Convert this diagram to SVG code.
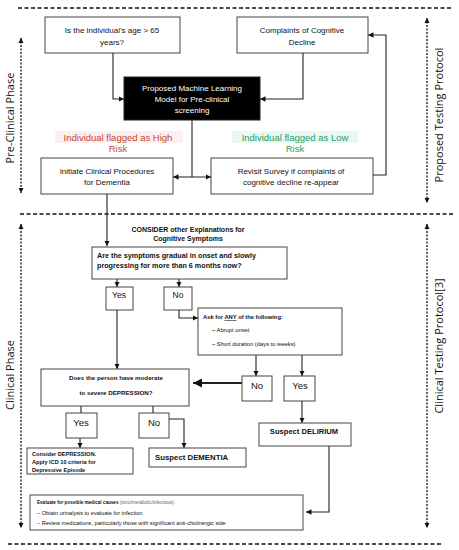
<svg xmlns="http://www.w3.org/2000/svg" width="459" height="550" viewBox="0 0 459 550">
<defs>
<marker id="ah" viewBox="0 0 6 6" refX="6" refY="3" markerWidth="5" markerHeight="5" orient="auto-start-reverse"><path d="M0,0 L6,3 L0,6 z" fill="#111"/></marker>
<marker id="dh" viewBox="0 0 6 6" refX="6" refY="3" markerWidth="4" markerHeight="4" orient="auto-start-reverse"><path d="M0,0 L6,3 L0,6 z" fill="#111"/></marker>
</defs>
<style>
.box{fill:#fff;stroke:#444;stroke-width:1}
.blk{fill:#000;stroke:#222;stroke-width:1}
.t{font-family:"Liberation Sans",Arial,sans-serif;fill:#111;text-anchor:middle}
.tl{font-family:"Liberation Sans",Arial,sans-serif;fill:#111}
.b{font-weight:bold}
.w{fill:#fff}
.side{font-family:"Open Sans","Liberation Sans",sans-serif;font-size:11px;fill:#111;text-anchor:middle}
.c{fill:none;stroke:#222;stroke-width:1.1}
.sep{fill:none;stroke:#111;stroke-width:1.5;stroke-dasharray:4,2.5}
.dv{fill:none;stroke:#111;stroke-width:1.3;stroke-dasharray:2,1.5}
</style>

<g id="separators">
<path class="sep" d="M18,8 H453"/>
<path class="sep" d="M20,214 H453"/>
<path class="sep" d="M8,544 H443"/>
</g>

<g id="phase-labels">
<path class="dv" d="M21,38 V193" marker-start="url(#dh)" marker-end="url(#dh)"/>
<path class="dv" d="M427,18 V203" marker-start="url(#dh)" marker-end="url(#dh)"/>
<path class="dv" d="M21,224 V528" marker-start="url(#dh)" marker-end="url(#dh)"/>
<path class="dv" d="M427,224 V528" marker-start="url(#dh)" marker-end="url(#dh)"/>
<text class="side" transform="translate(14,118) rotate(-90)">Pre-Clinical Phase</text>
<text class="side" transform="translate(443,115) rotate(-90)">Proposed Testing Protocol</text>
<text class="side" transform="translate(14,375) rotate(-90)">Clinical Phase</text>
<text class="side" transform="translate(443,346) rotate(-90)">Clinical Testing Protocol[3]</text>
</g>

<g id="connectors">
<path class="c" d="M113,53 V99 H124" marker-end="url(#ah)"/>
<path class="c" d="M303,53 V99 H260" marker-end="url(#ah)"/>
<path class="c" d="M192,120 V177"/>
<path class="c" d="M173,177 H211" marker-start="url(#ah)" marker-end="url(#ah)"/>
<path class="c" d="M373,175 H386 V35 H368" marker-end="url(#ah)"/>
<path class="c" d="M107,194 V246" marker-end="url(#ah)"/>
<path class="c" d="M117,279 V287" marker-end="url(#ah)"/>
<path class="c" d="M179,279 V287" marker-end="url(#ah)"/>
<path class="c" d="M179,310 V318 H198" marker-end="url(#ah)"/>
<path class="c" d="M256,355 V376" marker-end="url(#ah)"/>
<path class="c" d="M302,355 V376" marker-end="url(#ah)"/>
<path class="c" d="M242,383 H193" marker-end="url(#ah)" style="stroke-width:1.8"/>
<path class="c" d="M117,310 V369" marker-end="url(#ah)"/>
<path class="c" d="M81,406 V413"/>
<path class="c" d="M153,406 V413"/>
<path class="c" d="M80,438 V448" marker-end="url(#ah)"/>
<path class="c" d="M169,419 H184 V448" marker-end="url(#ah)"/>
<path class="c" d="M302,401 V423" marker-end="url(#ah)"/>
<path class="c" d="M329,446 V512 H306" marker-end="url(#ah)"/>
</g>

<g id="age">
<rect class="box" x="45" y="17" width="135" height="36"/>
<text class="t" x="112" y="33" font-size="8">Is the individual’s  age &gt; 65</text>
<text class="t" x="112" y="45" font-size="8">years?</text>
</g>

<g id="complaints">
<rect class="box" x="237" y="17" width="131" height="36"/>
<text class="t" x="302" y="33" font-size="8">Complaints  of Cognitive</text>
<text class="t" x="302" y="45" font-size="8">Decline</text>
</g>

<g id="ml-model">
<rect class="blk" x="124" y="77" width="136" height="43"/>
<text class="t w" x="192" y="91" font-size="8">Proposed Machine  Learning</text>
<text class="t w" x="192" y="102" font-size="8">Model for Pre-clinical</text>
<text class="t w" x="192" y="113" font-size="8">screening</text>
</g>

<g id="high-risk">
<rect x="55" y="131" width="128" height="12" fill="#fdeef2"/>
<text class="t" x="118" y="141" font-size="9.5" style="fill:#c0492e">Individual flagged as High</text>
<text class="t" x="118" y="152" font-size="9.5" style="fill:#c0492e">Risk</text>
</g>

<g id="low-risk">
<rect x="232" y="131" width="126" height="12" fill="#e8f8f4"/>
<text class="t" x="295" y="141" font-size="9.5" style="fill:#2f9a62">Individual flagged as Low</text>
<text class="t" x="295" y="152" font-size="9.5" style="fill:#2f9a62">Risk</text>
</g>

<g id="initiate">
<rect class="box" x="41" y="158" width="132" height="36"/>
<text class="t" x="107" y="174" font-size="8">Initiate Clinical  Procedures</text>
<text class="t" x="107" y="185" font-size="8">for Dementia</text>
</g>

<g id="revisit">
<rect class="box" x="211" y="158" width="162" height="36"/>
<text class="t" x="291" y="174" font-size="8">Revisit Survey if complaints of</text>
<text class="t" x="291" y="185" font-size="8">cognitive decline re-appear</text>
</g>

<g id="consider-other">
<text class="t b" x="188" y="232" font-size="7">CONSIDER other Explanations for</text>
<text class="t b" x="188" y="241" font-size="7">Cognitive Symptoms</text>
</g>

<g id="gradual">
<rect class="box" x="92" y="247" width="195" height="32"/>
<text class="tl b" x="97" y="258" font-size="7.2">Are the  symptoms  gradual in onset and  slowly</text>
<text class="tl b" x="97" y="268" font-size="7.2">progressing for  more than 6 months now?</text>
</g>

<g id="yes1">
<rect class="box" x="106" y="287" width="27" height="23"/>
<text class="t" x="119" y="298" font-size="8.5">Yes</text>
</g>

<g id="no1">
<rect class="box" x="164" y="287" width="28" height="23"/>
<text class="t" x="178" y="298" font-size="8.5">No</text>
</g>

<g id="ask-any">
<rect class="box" x="198" y="308" width="144" height="47"/>
<text class="tl b" x="203" y="319" font-size="5.8">Ask for <tspan text-decoration="underline">ANY</tspan> of the following:</text>
<text class="tl" x="212" y="332" font-size="5.8"><tspan class="b">–</tspan> Abrupt onset</text>
<text class="tl" x="212" y="346" font-size="5.8"><tspan class="b">–</tspan> Short duration (days to weeks)</text>
</g>

<g id="depression-q">
<rect class="box" x="41" y="369" width="148" height="37"/>
<text class="t b" x="116" y="380" font-size="6.2">Does the person have moderate</text>
<text class="t b" x="116" y="395" font-size="6.2">to severe DEPRESSION?</text>
</g>

<g id="no2">
<rect class="box" x="242" y="376" width="30" height="25"/>
<text class="t" x="257" y="389" font-size="9.5">No</text>
</g>

<g id="yes2">
<rect class="box" x="284" y="376" width="31" height="25"/>
<text class="t" x="300" y="389" font-size="9.5">Yes</text>
</g>

<g id="yes3">
<rect class="box" x="66" y="413" width="31" height="25"/>
<text class="t" x="81" y="426" font-size="9.5">Yes</text>
</g>

<g id="no3">
<rect class="box" x="139" y="413" width="30" height="25"/>
<text class="t" x="154" y="426" font-size="9.5">No</text>
</g>

<g id="suspect-delirium">
<rect class="box" x="259" y="423" width="92" height="23"/>
<text class="t b" x="304" y="434" font-size="7.6">Suspect DELIRIUM</text>
</g>

<g id="consider-depression">
<rect class="box" x="27" y="448" width="106" height="26"/>
<text class="tl b" x="32" y="456" font-size="5.6">Consider   DEPRESSION.</text>
<text class="tl b" x="32" y="464" font-size="5.6">Apply ICD 10 criteria for</text>
<text class="tl b" x="32" y="472" font-size="5.6">Depressive Episode</text>
</g>

<g id="suspect-dementia">
<rect class="box" x="149" y="448" width="97" height="19"/>
<text class="tl b" x="155" y="460" font-size="7.8">Suspect DEMENTIA</text>
</g>

<g id="evaluate">
<rect class="box" x="30" y="495" width="273" height="35"/>
<text class="tl" x="37" y="504" font-size="4.6"><tspan class="b">Evaluate for possible medical causes</tspan> <tspan style="fill:#666">(toxic/metabolic/infectious).</tspan></text>
<text class="tl" x="37" y="515" font-size="5.6">– Obtain urinalysis to evaluate for infection</text>
<text class="tl" x="37" y="525" font-size="5.6">– Review medications, particularly those with significant anti-cholinergic side</text>
</g>
</svg>
